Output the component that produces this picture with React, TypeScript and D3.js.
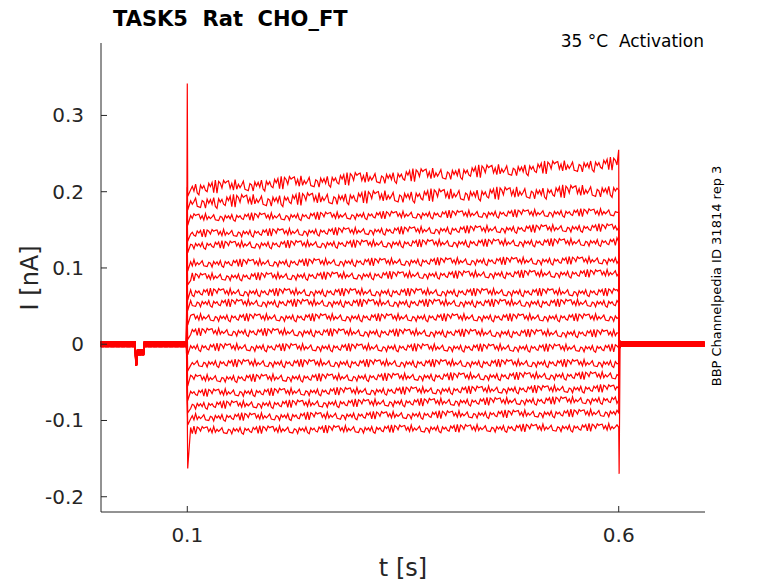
import React from 'react';
import * as d3 from 'd3';

// step-level currents (nA) read at start (t≈0.12 s) and end (t≈0.59 s) of pulse
const startLevels = [0.204, 0.186, 0.166, 0.145, 0.130, 0.106, 0.088, 0.068, 0.054, 0.035, 0.016, -0.004, -0.025, -0.045, -0.064, -0.080, -0.096, -0.113];
const endLevels = [0.237, 0.202, 0.173, 0.153, 0.134, 0.110, 0.093, 0.068, 0.054, 0.035, 0.014, -0.005, -0.025, -0.041, -0.058, -0.073, -0.090, -0.109];
// hand-typed wiggle pattern (nA), reused across traces with an offset
const wiggle = [0.004, -0.006, 0.007, -0.002, 0.009, -0.008, 0.003, -0.005, 0.010, -0.004, 0.002, -0.009, 0.006, -0.003, 0.008, -0.007, 0.001, 0.005, -0.010, 0.006, -0.002, 0.004, -0.006, 0.009, -0.001, -0.007, 0.005, 0.003, -0.008, 0.007, -0.004, 0.002, 0.008, -0.006, 0.000, -0.003, 0.006, -0.009, 0.004, 0.001];
const baseNoise = [0.003, -0.004, 0.005, -0.003, 0.004, -0.005, 0.002, -0.004, 0.005, -0.002];
const dip = { t0: 0.040, t1: 0.050, v: -0.027 };
const onset = { t: 0.1, hi: 0.342, lo: -0.163 };
const offset = { t: 0.6, hi: 0.255, lo: -0.17 };
const yTicks = [-0.2, -0.1, 0, 0.1, 0.2, 0.3];
const xTicks = [0.1, 0.6];

const W = 778, H = 583;
const m = { left: 101, right: 73, top: 43, bottom: 71 };

export default function App() {
  const x = d3.scaleLinear().domain([0, 0.7]).range([m.left, W - m.right]);
  const y = d3.scaleLinear().domain([-0.22, 0.395]).range([H - m.bottom, m.top]);
  const line = d3.line<[number, number]>().x(d => x(d[0])).y(d => y(d[1]));

  const traces = startLevels.map((s, k) => {
    const pts: [number, number][] = [];
    const nPre = 160;
    for (let i = 0; i <= nPre; i++) {
      const t = (i / nPre) * 0.099;
      let v = baseNoise[(i + k) % baseNoise.length] * 0.8;
      if (t > dip.t0 && t < dip.t1) v += dip.v * (t < dip.t0 + 0.002 ? 0.9 : 0.4);
      pts.push([t, v]);
    }
    pts.push([onset.t, k === 0 ? onset.hi : s + 0.02]);
    pts.push([onset.t + 0.0005, k === startLevels.length - 1 ? onset.lo : s - 0.01]);
    const n = 260;
    for (let i = 1; i <= n; i++) {
      const t = onset.t + 0.002 + (i / n) * (offset.t - onset.t - 0.004);
      const f = (t - onset.t) / (offset.t - onset.t);
      const v = s + (endLevels[k] - s) * f + wiggle[(i * 3 + k * 7) % wiggle.length] * (k < 2 ? 0.9 : 0.55);
      pts.push([t, v]);
    }
    pts.push([offset.t, k === 0 ? offset.hi : endLevels[k]]);
    pts.push([offset.t + 0.0005, k === startLevels.length - 1 ? offset.lo : 0]);
    for (let i = 1; i <= 160; i++) {
      const t = offset.t + 0.001 + (i / 160) * 0.098;
      pts.push([t, baseNoise[(i + k * 3) % baseNoise.length] * 0.7]);
    }
    return line(pts) as string;
  });

  const font = 'DejaVu Sans, sans-serif';
  const axisColor = '#262626';
  return (
    <svg width={W} height={H} style={{ position: 'absolute', left: 0, top: 0, background: '#fff' }} fontFamily={font}>
      <g fill="none" stroke="#ff0000" strokeWidth={1.2}>
        {traces.map((d, i) => <path key={i} d={d} />)}
      </g>
      <line x1={m.left} x2={m.left} y1={m.top} y2={H - m.bottom} stroke={axisColor} />
      <line x1={m.left} x2={W - m.right} y1={H - m.bottom} y2={H - m.bottom} stroke={axisColor} />
      {yTicks.map(t => (
        <g key={t}>
          <line x1={m.left} x2={m.left + 6} y1={y(t)} y2={y(t)} stroke={axisColor} />
          <text x={m.left - 17} y={y(t)} dy="0.35em" textAnchor="end" fontSize={20} fill={axisColor}>{t}</text>
        </g>
      ))}
      {xTicks.map(t => (
        <g key={t}>
          <line x1={x(t)} x2={x(t)} y1={H - m.bottom} y2={H - m.bottom - 6} stroke={axisColor} />
          <text x={x(t)} y={H - m.bottom + 30} textAnchor="middle" fontSize={20} fill={axisColor}>{t}</text>
        </g>
      ))}
      <text x={x(0.35)} y={576} textAnchor="middle" fontSize={24} fill={axisColor}>t [s]</text>
      <text transform={`translate(38,${y(0.087)}) rotate(-90)`} textAnchor="middle" fontSize={24} fill={axisColor}>I [nA]</text>
      <text x={113} y={26} fontSize={21} fontWeight="bold" fill="#000" style={{ whiteSpace: 'pre' }}>TASK5  Rat  CHO_FT</text>
      <text x={704} y={47} textAnchor="end" fontSize={17} fill="#000" style={{ whiteSpace: 'pre' }}>35 °C  Activation</text>
      <text transform={`translate(721,${276}) rotate(-90)`} textAnchor="middle" fontSize={13} fill="#000">BBP Channelpedia ID 31814 rep 3</text>
    </svg>
  );
}
